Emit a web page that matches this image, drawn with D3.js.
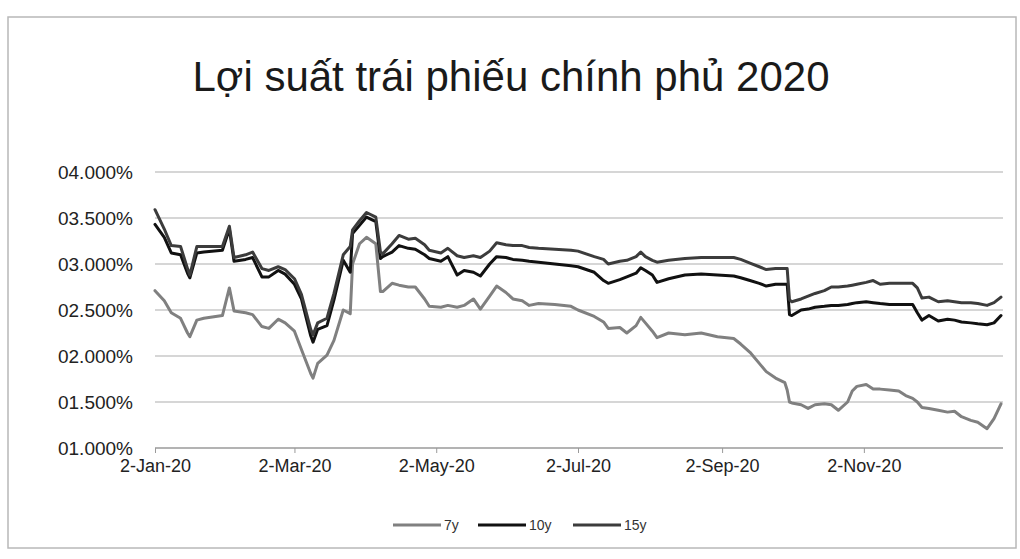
<!DOCTYPE html>
<html>
<head>
<meta charset="utf-8">
<script src="https://cdn.jsdelivr.net/npm/d3@7"></script>
<style>
  body { margin: 0; background: #fff; }
  svg { font-family: "Liberation Sans", Arial, sans-serif; }
</style>
</head>
<body>
<svg id="chart" width="1020" height="559"></svg>
<script>
// sampled trading dates, 2020
const dates = [
  "2020-01-02","2020-01-06","2020-01-09","2020-01-13","2020-01-16","2020-01-17","2020-01-20","2020-01-23","2020-01-31",
  "2020-02-03","2020-02-05","2020-02-10","2020-02-13","2020-02-17","2020-02-20","2020-02-24","2020-02-27",
  "2020-03-02","2020-03-05","2020-03-09","2020-03-10","2020-03-12","2020-03-16","2020-03-19","2020-03-23","2020-03-26","2020-03-27","2020-03-30",
  "2020-04-02","2020-04-06","2020-04-08","2020-04-09","2020-04-13","2020-04-16","2020-04-20","2020-04-23","2020-04-27","2020-04-29",
  "2020-05-04","2020-05-07","2020-05-11","2020-05-14","2020-05-18","2020-05-21","2020-05-25","2020-05-28",
  "2020-06-01","2020-06-04","2020-06-08","2020-06-11","2020-06-15","2020-06-22","2020-06-29",
  "2020-07-02","2020-07-09","2020-07-13","2020-07-15","2020-07-20","2020-07-23","2020-07-27","2020-07-29","2020-07-31",
  "2020-08-03","2020-08-05","2020-08-10","2020-08-17","2020-08-24","2020-08-31",
  "2020-09-07","2020-09-10","2020-09-14","2020-09-18","2020-09-21","2020-09-25","2020-09-29","2020-09-30",
  "2020-10-01","2020-10-02","2020-10-06","2020-10-09","2020-10-12","2020-10-16","2020-10-19","2020-10-22","2020-10-26","2020-10-28","2020-10-30",
  "2020-11-03","2020-11-06","2020-11-09","2020-11-13","2020-11-17","2020-11-20","2020-11-23","2020-11-25","2020-11-27","2020-11-30",
  "2020-12-04","2020-12-08","2020-12-11","2020-12-14","2020-12-18","2020-12-21","2020-12-25","2020-12-28","2020-12-31"
];

const y7 = [
  2.71,2.60,2.47,2.41,2.25,2.21,2.39,2.41,2.44,
  2.74,2.49,2.47,2.45,2.32,2.30,2.40,2.36,
  2.27,2.07,1.81,1.76,1.92,2.01,2.17,2.50,2.46,3.00,3.22,
  3.29,3.22,2.70,2.70,2.79,2.77,2.75,2.75,2.62,2.54,
  2.53,2.55,2.53,2.55,2.62,2.51,2.65,2.76,
  2.69,2.62,2.60,2.55,2.57,2.56,2.54,
  2.50,2.43,2.37,2.30,2.31,2.25,2.33,2.42,2.36,
  2.27,2.20,2.25,2.23,2.25,2.21,
  2.19,2.13,2.04,1.92,1.83,1.76,1.71,1.63,
  1.50,1.49,1.47,1.43,1.47,1.48,1.47,1.41,1.50,1.62,1.67,
  1.69,1.64,1.64,1.63,1.62,1.57,1.54,1.50,1.44,1.43,
  1.41,1.39,1.40,1.34,1.30,1.28,1.21,1.32,1.48
];

const y10 = [
  3.43,3.29,3.12,3.10,2.90,2.85,3.12,3.13,3.15,
  3.38,3.03,3.05,3.07,2.86,2.86,2.93,2.89,
  2.78,2.62,2.22,2.15,2.29,2.33,2.61,3.04,2.91,3.33,3.42,
  3.51,3.46,3.06,3.08,3.13,3.20,3.17,3.16,3.10,3.06,
  3.03,3.08,2.88,2.93,2.91,2.87,3.00,3.08,
  3.07,3.05,3.04,3.03,3.02,3.00,2.98,
  2.97,2.91,2.82,2.79,2.83,2.86,2.90,2.96,2.93,
  2.88,2.80,2.84,2.88,2.89,2.88,
  2.87,2.85,2.82,2.79,2.76,2.78,2.78,2.78,
  2.45,2.44,2.50,2.51,2.53,2.54,2.55,2.55,2.56,2.57,2.58,
  2.59,2.58,2.57,2.56,2.56,2.56,2.56,2.47,2.39,2.44,
  2.38,2.40,2.39,2.37,2.36,2.35,2.34,2.36,2.44
];

const y15 = [
  3.59,3.38,3.20,3.19,2.95,2.88,3.19,3.19,3.19,
  3.41,3.07,3.10,3.13,2.95,2.93,2.97,2.94,
  2.84,2.67,2.29,2.23,2.36,2.41,2.68,3.10,3.19,3.37,3.47,
  3.56,3.51,3.13,3.11,3.22,3.31,3.27,3.28,3.21,3.15,
  3.12,3.17,3.09,3.07,3.09,3.07,3.14,3.23,
  3.21,3.20,3.20,3.18,3.17,3.16,3.15,
  3.14,3.08,3.05,3.00,3.03,3.04,3.08,3.13,3.08,
  3.04,3.02,3.04,3.06,3.07,3.07,
  3.07,3.05,3.01,2.97,2.94,2.95,2.95,2.95,
  2.61,2.59,2.62,2.65,2.68,2.71,2.75,2.75,2.76,2.77,2.78,
  2.80,2.82,2.78,2.79,2.79,2.79,2.79,2.74,2.63,2.64,
  2.59,2.60,2.59,2.58,2.58,2.57,2.55,2.58,2.64
];

const seriesNames = ["7y", "10y", "15y"];
const seriesColors = ["#808080", "#111111", "#3c3c3c"];
const yTicks = [1, 1.5, 2, 2.5, 3, 3.5, 4];
const xTickDates = ["2020-01-02", "2020-03-02", "2020-05-02", "2020-07-02", "2020-09-02", "2020-11-02"];

const parseDate = d3.timeParse("%Y-%m-%d");
const series = [y7, y10, y15].map((values, i) => ({
  name: seriesNames[i],
  color: seriesColors[i],
  points: values.map((v, j) => ({ date: parseDate(dates[j]), value: v })),
}));

const svg = d3.select("#chart");

// page frame of the scanned chart
svg.append("rect")
  .attr("x", 8).attr("y", 17).attr("width", 1008).attr("height", 531)
  .attr("fill", "#fff").attr("stroke", "#b8b8b8").attr("stroke-width", 1.5);

svg.append("text")
  .attr("x", 511).attr("y", 91)
  .attr("text-anchor", "middle")
  .attr("font-size", 42)
  .attr("fill", "#1a1a1a")
  .text("Lợi suất trái phiếu chính phủ 2020");

const x = d3.scaleTime()
  .domain([parseDate("2020-01-02"), parseDate("2020-12-31")])
  .range([155, 1001]);

const y = d3.scaleLinear().domain([1, 4]).range([448, 172]);

// gridlines
svg.append("g")
  .selectAll("line")
  .data(yTicks.filter((t) => t > 1))
  .enter()
  .append("line")
  .attr("x1", 155).attr("x2", 1003)
  .attr("y1", (t) => y(t)).attr("y2", (t) => y(t))
  .attr("stroke", "#c9c9c9").attr("stroke-width", 1.3);

const yAxis = svg.append("g")
  .attr("transform", "translate(155,0)")
  .call(
    d3.axisLeft(y)
      .tickValues(yTicks)
      .tickSize(0)
      .tickPadding(22)
      .tickFormat((t) => d3.format("06.3f")(t) + "%")
  );
yAxis.select(".domain").remove();
yAxis.selectAll("text")
  .attr("font-size", 19)
  .attr("fill", "#222")
  .attr("font-family", "Liberation Sans, Arial, sans-serif");

const xAxis = svg.append("g")
  .attr("transform", `translate(0,${y(1)})`)
  .call(
    d3.axisBottom(x)
      .tickValues(xTickDates.map(parseDate))
      .tickSize(5)
      .tickPadding(6)
      .tickFormat(d3.timeFormat("%-d-%b-%y"))
  );
xAxis.select(".domain")
  .attr("d", "M155,0H1003")
  .attr("stroke", "#9a9a9a").attr("stroke-width", 1.3);
xAxis.selectAll(".tick line").attr("stroke", "#9a9a9a");
xAxis.selectAll("text")
  .attr("font-size", 18)
  .attr("fill", "#222")
  .attr("font-family", "Liberation Sans, Arial, sans-serif");

const line = d3.line()
  .x((d) => x(d.date))
  .y((d) => y(d.value));

svg.append("g")
  .selectAll("path")
  .data(series)
  .enter()
  .append("path")
  .attr("d", (s) => line(s.points))
  .attr("fill", "none")
  .attr("stroke", (s) => s.color)
  .attr("stroke-width", 3)
  .attr("stroke-linejoin", "round")
  .attr("stroke-linecap", "round");

// legend
const legendX = [393, 478, 573];
const legend = svg.append("g")
  .selectAll("g")
  .data(series)
  .enter()
  .append("g")
  .attr("transform", (s, i) => `translate(${legendX[i]},525)`);

legend.append("line")
  .attr("x1", 0).attr("x2", 48)
  .attr("stroke", (s) => s.color)
  .attr("stroke-width", 3);

legend.append("text")
  .attr("x", 51).attr("y", 5)
  .attr("font-size", 14)
  .attr("fill", "#333")
  .text((s) => s.name);
</script>
</body>
</html>
